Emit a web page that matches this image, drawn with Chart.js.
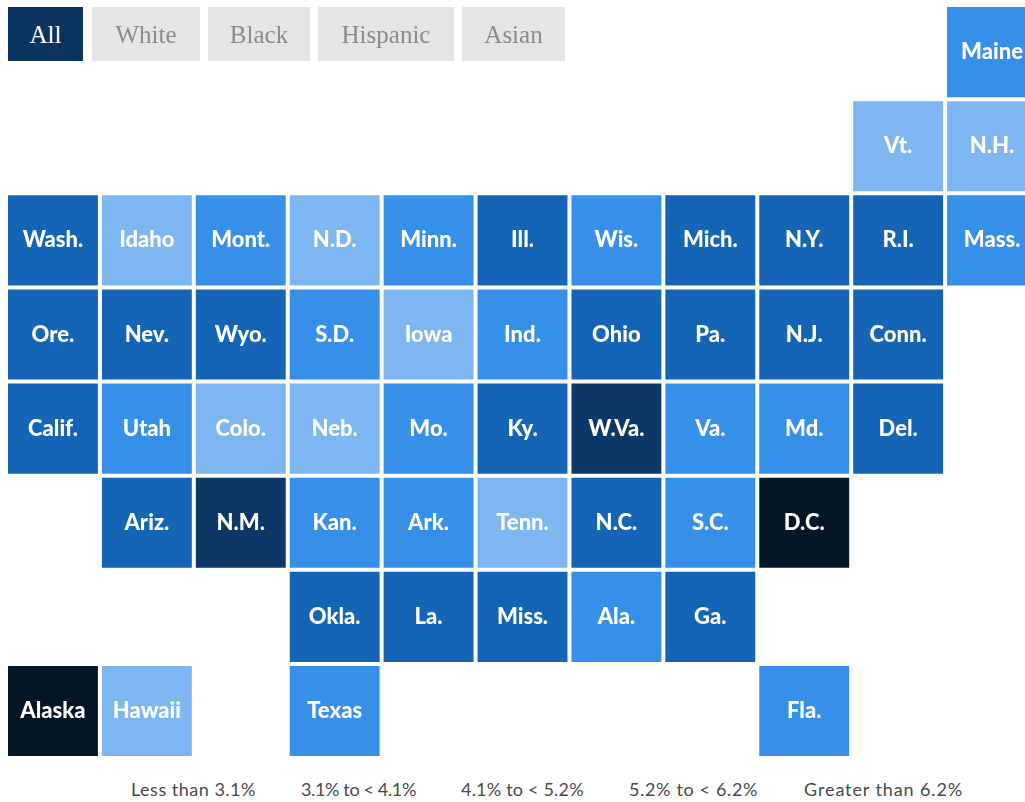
<!doctype html>
<html lang="en">
<head>
<meta charset="utf-8">
<title>Tile map by state</title>
<script src="https://cdn.jsdelivr.net/npm/chart.js@4"></script>
<style>
  html, body { margin: 0; padding: 0; background: #fff; }
  #page { position: relative; width: 1025px; height: 802px; overflow: hidden; }
  #map { position: absolute; left: 0; top: 0; }
  .btn { position: absolute; top: 7px; height: 54px; text-align: center; background: #e5e5e5; color: #8c8c8c;
    font: 25px/55px "Liberation Serif", serif; }
  .btn.on { background: #0a345f; color: #fff; }
  .key { position: absolute; top: 778px; font: 18px/22px Lato, sans-serif; color: #4a4a4a; white-space: nowrap; }
</style>
</head>
<body>
<div id="page">
  <canvas id="map" width="1039" height="758"></canvas>
  <div id="buttons"></div>
  <div id="legend"></div>
</div>
<script>
const buttonLabels = ['All', 'White', 'Black', 'Hispanic', 'Asian'];
const buttonLefts = [8, 92, 208, 318, 462];
const buttonWidths = [75, 108, 102, 136, 103];

const binLabels = ['Less than 3.1%', '3.1% to < 4.1%', '4.1% to < 5.2%', '5.2% to < 6.2%', 'Greater than 6.2%'];
const binColors = ['#7db6f0', '#368fe9', '#1565b7', '#0c3766', '#041525'];
const keyLefts = [131, 301, 461, 629, 804];
const keySpacing = [0.5, -0.36, 0.2, 0.65, 0.9]; // Lato digits are wider than the original's, so nudge per label

const columns = ['0', '1', '2', '3', '4', '5', '6', '7', '8', '9', '10'];

const stateNames = ['Maine',
  'Vt.', 'N.H.',
  'Wash.', 'Idaho', 'Mont.', 'N.D.', 'Minn.', 'Ill.', 'Wis.', 'Mich.', 'N.Y.', 'R.I.', 'Mass.',
  'Ore.', 'Nev.', 'Wyo.', 'S.D.', 'Iowa', 'Ind.', 'Ohio', 'Pa.', 'N.J.', 'Conn.',
  'Calif.', 'Utah', 'Colo.', 'Neb.', 'Mo.', 'Ky.', 'W.Va.', 'Va.', 'Md.', 'Del.',
  'Ariz.', 'N.M.', 'Kan.', 'Ark.', 'Tenn.', 'N.C.', 'S.C.', 'D.C.',
  'Okla.', 'La.', 'Miss.', 'Ala.', 'Ga.',
  'Alaska', 'Hawaii', 'Texas', 'Fla.'];
const stateCols = [10,
  9, 10,
  0, 1, 2, 3, 4, 5, 6, 7, 8, 9, 10,
  0, 1, 2, 3, 4, 5, 6, 7, 8, 9,
  0, 1, 2, 3, 4, 5, 6, 7, 8, 9,
  1, 2, 3, 4, 5, 6, 7, 8,
  3, 4, 5, 6, 7,
  0, 1, 3, 8];
const stateRows = [0,
  1, 1,
  2, 2, 2, 2, 2, 2, 2, 2, 2, 2, 2,
  3, 3, 3, 3, 3, 3, 3, 3, 3, 3,
  4, 4, 4, 4, 4, 4, 4, 4, 4, 4,
  5, 5, 5, 5, 5, 5, 5, 5,
  6, 6, 6, 6, 6,
  7, 7, 7, 7];
const stateBins = [1,
  0, 0,
  2, 0, 1, 0, 1, 2, 1, 2, 2, 2, 1,
  2, 2, 2, 1, 0, 1, 2, 2, 2, 2,
  2, 1, 0, 0, 1, 2, 3, 1, 1, 2,
  2, 3, 1, 1, 0, 2, 1, 4,
  2, 2, 2, 1, 2,
  4, 0, 1, 1];

// buttons + legend are plain html
buttonLabels.forEach((txt, i) => {
  const el = document.createElement('div');
  el.className = 'btn' + (i === 0 ? ' on' : '');
  el.style.left = buttonLefts[i] + 'px';
  el.style.width = buttonWidths[i] + 'px';
  el.textContent = txt;
  document.getElementById('buttons').appendChild(el);
});
binLabels.forEach((txt, i) => {
  const el = document.createElement('span');
  el.className = 'key';
  el.style.left = keyLefts[i] + 'px';
  el.style.letterSpacing = keySpacing[i] + 'px';
  el.textContent = txt;
  document.getElementById('legend').appendChild(el);
});

// one dataset per bucket, each tile is a floating bar one row tall
const datasets = binLabels.map((label, b) => {
  const data = [];
  stateNames.forEach((name, i) => {
    if (stateBins[i] === b) data.push({ x: columns[stateCols[i]], y: [stateRows[i], stateRows[i] + 1], name });
  });
  return { label, data, backgroundColor: binColors[b], borderColor: '#fff', borderWidth: 2, borderSkipped: false, inflateAmount: 0 };
});

// state abbreviations in the middle of each tile
const tileLabels = {
  id: 'tileLabels',
  afterDatasetsDraw(chart) {
    const ctx = chart.ctx;
    ctx.save();
    ctx.font = '900 22px Lato, sans-serif';
    ctx.fillStyle = '#fff';
    ctx.textAlign = 'center';
    ctx.textBaseline = 'middle';
    chart.data.datasets.forEach((ds, d) => {
      chart.getDatasetMeta(d).data.forEach((bar, i) => {
        const c = bar.getCenterPoint();
        ctx.fillText(ds.data[i].name, c.x, c.y);
      });
    });
    ctx.restore();
  },
};

new Chart(document.getElementById('map'), {
  type: 'bar',
  data: { labels: columns, datasets },
  options: {
    responsive: false,
    animation: false,
    events: [],
    layout: { padding: { left: 6, top: 5, right: 0, bottom: 0 } },
    datasets: { bar: { grouped: false, barPercentage: 1, categoryPercentage: 1 } },
    plugins: { legend: { display: false }, tooltip: { enabled: false } },
    scales: {
      x: { type: 'category', display: false },
      y: { display: false, reverse: true, min: 0, max: 8 },
    },
  },
  plugins: [tileLabels],
});
</script>
</body>
</html>
